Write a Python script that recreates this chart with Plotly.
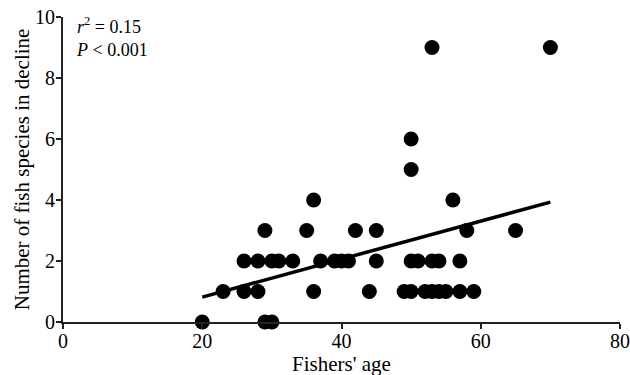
import numpy as np
import plotly.graph_objects as go

# Fishers' age and number of fish species in decline
age = [20, 29, 30,
       23, 26, 28, 36, 44, 49, 50, 52, 53, 54, 55, 57, 59,
       26, 28, 30, 31, 33, 37, 39, 40, 41, 45, 50, 51, 53, 54, 57,
       29, 35, 42, 45, 58, 65,
       36, 56,
       50,
       50,
       53, 70]
species = [0, 0, 0,
           1, 1, 1, 1, 1, 1, 1, 1, 1, 1, 1, 1, 1,
           2, 2, 2, 2, 2, 2, 2, 2, 2, 2, 2, 2, 2, 2, 2,
           3, 3, 3, 3, 3, 3,
           4, 4,
           5,
           6,
           9, 9]
x_ticks = [0, 20, 40, 60, 80]
y_ticks = [0, 2, 4, 6, 8, 10]
x_title = "Fishers' age"
y_title = "Number of fish species in decline"

slope, intercept = np.polyfit(age, species, 1)
fit_x = np.array([min(age), max(age)])
fit_y = slope * fit_x + intercept

font = "Liberation Serif, Times New Roman, serif"

fig = go.Figure()
fig.add_trace(go.Scatter(x=fit_x, y=fit_y, mode="lines",
                         line=dict(color="black", width=3.5),
                         showlegend=False, hoverinfo="skip"))
fig.add_trace(go.Scatter(x=age, y=species, mode="markers",
                         marker=dict(color="black", size=15),
                         cliponaxis=False, showlegend=False))

fig.update_layout(
    width=630, height=375,
    margin=dict(l=63, r=10, t=17, b=53),
    paper_bgcolor="white", plot_bgcolor="white",
    font=dict(family=font, size=20, color="black"),
    xaxis=dict(range=[0, 80], tickvals=x_ticks, showgrid=False, zeroline=False,
               showline=True, linecolor="#222", linewidth=2, automargin=False,
               ticks="outside", ticklen=5, tickwidth=2, tickcolor="#222",
               ticklabelstandoff=-5, tickfont=dict(size=20)),
    yaxis=dict(range=[0, 10], tickvals=y_ticks, showgrid=False, zeroline=False,
               showline=True, linecolor="#222", linewidth=2, automargin=False,
               ticks="outside", ticklen=5, tickwidth=2, tickcolor="#222",
               ticklabelstandoff=-3, tickfont=dict(size=20)),
    annotations=[
        dict(text="<i>r</i><sup>2</sup> = 0.15<br><i>P</i> < 0.001", x=0.02, y=1.0,
             xref="paper", yref="paper", xanchor="left", yanchor="top", yshift=5,
             showarrow=False, align="left", font=dict(size=18, family=font)),
        dict(text=x_title, x=0.5, y=-0.138, xref="paper", yref="paper",
             xanchor="center", yanchor="middle", showarrow=False,
             font=dict(size=21, family=font)),
        dict(text=y_title, x=-0.074, y=0.5, xref="paper", yref="paper",
             xanchor="center", yanchor="middle", textangle=-90, showarrow=False,
             font=dict(size=21, family=font)),
    ],
)

fig.write_html("out.html", config={"displayModeBar": False},
               post_script="document.body.style.margin='0';")
